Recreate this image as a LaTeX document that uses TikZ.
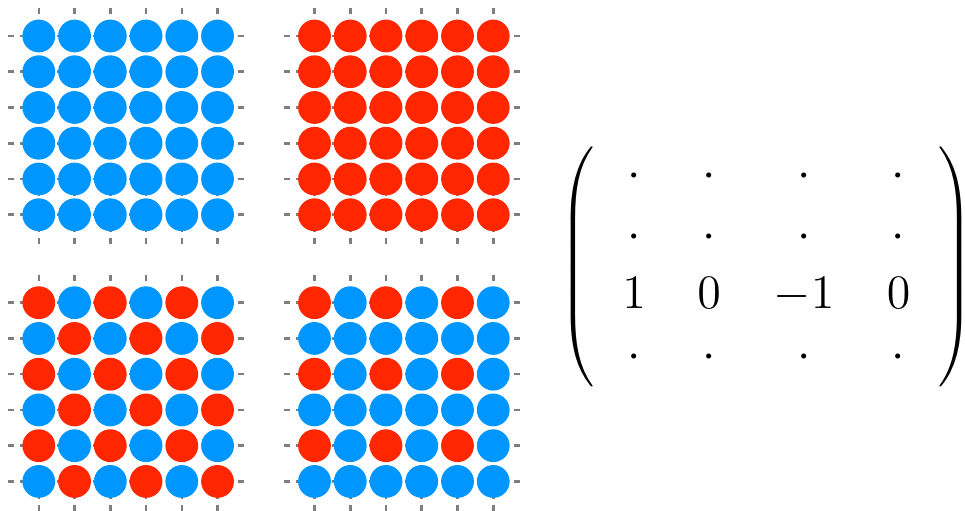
\documentclass[tikz,border=0pt]{standalone}
\definecolor{aqua}{HTML}{0096FF}
\definecolor{maraschino}{HTML}{FF2600}
\definecolor{gridgray}{HTML}{7F7F7F}
\tikzset{
  gridline/.style={draw=gridgray, line width=0.65pt, dash pattern=on 1.5pt off 1.525pt},
  bead/.style={circle, inner sep=0pt, minimum size=8.2pt},
  mtx/.style={font=\fontsize{12.25}{14}\selectfont, anchor=base, inner sep=0pt},
  paren/.style={inner sep=0pt},
}
% #1 name, #2 left, #3 top, #4 mode: 0 blue, 1 red, 2 checker, 3 red on even rows/cols
\newcommand\beadgrid[4]{%
  \foreach \k in {0,...,5}{
    \draw[gridline] (#2+30.5+35.75*\k, #3) -- (#2+30.5+35.75*\k, #3+236);
    \draw[gridline] (#2, #3+27.7+35.75*\k) -- (#2+236, #3+27.7+35.75*\k);
  }
  \foreach \j in {0,...,5}{
    \foreach \i in {0,...,5}{
      \ifcase#4 \def\isred{0}\or \def\isred{1}\or
        \pgfmathtruncatemacro\isred{1-mod(\i+\j,2)}\or
        \pgfmathtruncatemacro\isred{(1-mod(\i,2))*(1-mod(\j,2))}\fi
      \ifnum\isred=1 \def\beadcol{maraschino}\else\def\beadcol{aqua}\fi
      \node[bead, fill=\beadcol] (#1-\i-\j) at (#2+30.5+35.75*\i, #3+27.7+35.75*\j) {};
    }
  }
}
\newcommand\bigdelim[1]{\makebox[5pt]{\nulldelimiterspace=0pt\relax$#1$}}
\begin{document}
\begin{tikzpicture}[x=0.25pt, y=-0.25pt]
\useasboundingbox (0,0) rectangle (965,511);
\beadgrid{tl}{8.3}{8.3}{0}
\beadgrid{tr}{284}{8.3}{1}
\beadgrid{bl}{8.3}{275}{2}
\beadgrid{br}{284}{275}{3}
% matrix
\node[paren] (lp) at (577,266.7) {\bigdelim{\left(\vcenter{\hrule height 64pt width 0pt}\right.}};
\node[paren] (rp) at (956,266.7) {\bigdelim{\left.\vcenter{\hrule height 64pt width 0pt}\right)}};
\foreach \x [count=\c] in {634,709,804,898.5}{
  \node[mtx] (m1\c) at (\x,187.3) {$\cdot$};
  \node[mtx] (m2\c) at (\x,248.3) {$\cdot$};
  \node[mtx] (m4\c) at (\x,369) {$\cdot$};
}
\node[mtx] (m31) at (634,308.5) {$1$};
\node[mtx] (m32) at (709,308.5) {$0$};
\node[mtx] (m33) at (804,308.5) {$-1$};
\node[mtx] (m34) at (898.5,308.5) {$0$};
\end{tikzpicture}
\end{document}
